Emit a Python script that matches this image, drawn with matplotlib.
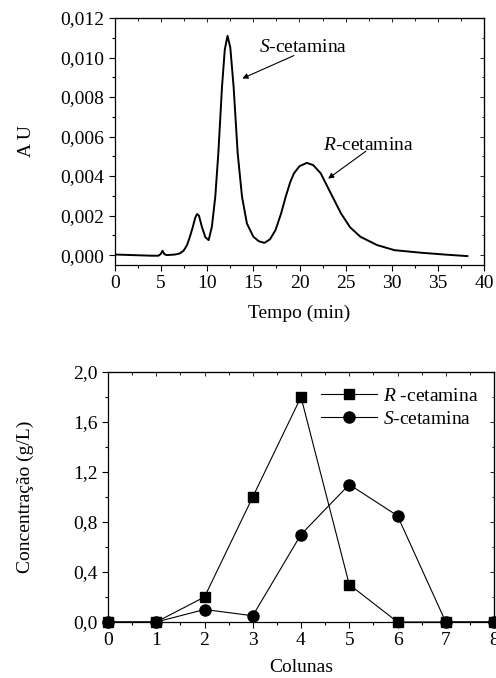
import matplotlib
matplotlib.use("Agg")
import matplotlib.pyplot as plt
from matplotlib.ticker import MultipleLocator

plt.rcParams["font.family"] = ["Liberation Serif", "DejaVu Serif"]
plt.rcParams["mathtext.fontset"] = "custom"
plt.rcParams["mathtext.rm"] = "Liberation Serif"
plt.rcParams["mathtext.it"] = "Liberation Serif:italic"
FS = 14

# cromatograma
tempo = [0, 2, 4, 4.7, 4.95, 5.15, 5.35, 5.6, 6.5, 7.0, 7.43, 7.8, 8.1, 8.44,
         8.7, 8.9, 9.1, 9.42, 9.8, 10.15, 10.5, 10.87, 11.2, 11.6, 11.9, 12.2,
         12.5, 12.86, 13.3, 13.77, 14.3, 15.0, 15.6, 16.2, 16.8, 17.4, 18.0,
         18.5, 19.0, 19.4, 20.0, 20.8, 21.5, 22.3, 23.4, 24.5, 25.5, 26.6,
         28.4, 30.3, 33.2, 35.7, 38.2]
au = [0.00003, 0.0, -0.00003, -0.00003, 0.00005, 0.00022, 0.00005, 0.0,
      0.00003, 0.00008, 0.00022, 0.0005, 0.0009, 0.00143, 0.0019, 0.00208,
      0.002, 0.00143, 0.0009, 0.00076, 0.00143, 0.00295, 0.00515, 0.00852,
      0.0104, 0.0111, 0.0105, 0.0085, 0.00515, 0.00295, 0.0016, 0.00093,
      0.0007, 0.00062, 0.0008, 0.00127, 0.0021, 0.00295, 0.0037, 0.00414,
      0.0045, 0.00467, 0.00455, 0.00414, 0.00312, 0.00211, 0.0014, 0.00093,
      0.00051, 0.00025, 0.00012, 0.00003, -0.00005]

top_xticks = [0, 5, 10, 15, 20, 25, 30, 35, 40]
top_yticks = [0.000, 0.002, 0.004, 0.006, 0.008, 0.010, 0.012]
top_yticklabels = ["0,000", "0,002", "0,004", "0,006", "0,008", "0,010", "0,012"]

# concentracao por coluna
colunas = [0, 1, 2, 3, 4, 5, 6, 7, 8]
conc_r = [0, 0, 0.2, 1.0, 1.8, 0.3, 0, 0, 0]
conc_s = [0, 0, 0.1, 0.05, 0.7, 1.1, 0.85, 0, 0]
bot_yticks = [0.0, 0.4, 0.8, 1.2, 1.6, 2.0]
bot_yticklabels = ["0,0", "0,4", "0,8", "1,2", "1,6", "2,0"]


def style_axes(ax, xminor, yminor):
    ax.xaxis.set_minor_locator(MultipleLocator(xminor))
    ax.yaxis.set_minor_locator(MultipleLocator(yminor))
    ax.tick_params(which="both", direction="out", labelsize=FS)
    ax.tick_params(which="major", length=4, width=0.8)
    ax.tick_params(which="minor", length=2.2, width=0.8)
    # eixos espelhados (topo/direita) com ticks para dentro
    for side in ("top", "right"):
        if side == "top":
            sec = ax.secondary_xaxis("top")
            sec.set_xticks(ax.get_xticks())
            sec.xaxis.set_minor_locator(MultipleLocator(xminor))
        else:
            sec = ax.secondary_yaxis("right")
            sec.set_yticks(ax.get_yticks())
            sec.yaxis.set_minor_locator(MultipleLocator(yminor))
        sec.tick_params(which="both", direction="in", labelleft=False,
                        labelright=False, labeltop=False, labelbottom=False)
        sec.tick_params(which="major", length=3, width=0.6)
        sec.tick_params(which="minor", length=1.8, width=0.6)
    for sp in ax.spines.values():
        sp.set_linewidth(0.9)


fig = plt.figure(figsize=(4.96, 6.78), dpi=100)

ax1 = fig.add_axes([115 / 496, 1 - 265 / 678, 369 / 496, 247 / 678])
ax1.plot(tempo, au, color="black", lw=1.4)
ax1.set_xlim(0, 40)
ax1.set_ylim(-0.0005, 0.012)
ax1.set_xticks(top_xticks)
ax1.set_yticks(top_yticks)
ax1.set_yticklabels(top_yticklabels)
style_axes(ax1, 2.5, 0.001)
ax1.set_xlabel("Tempo (min)", fontsize=FS, labelpad=9)
ax1.set_ylabel("A U", fontsize=FS, labelpad=18)

arrow = dict(arrowstyle="-|>", color="black", lw=0.8, mutation_scale=8,
             shrinkA=0, shrinkB=0)
ax1.text(15.6, 0.01053, "$\\mathit{S}$-cetamina", fontsize=FS, va="center")
ax1.annotate("", xy=(13.8, 0.00894), xytext=(19.4, 0.0101), arrowprops=arrow)
ax1.text(22.5, 0.00556, "$\\mathit{R}$-cetamina", fontsize=FS, va="center")
ax1.annotate("", xy=(23.1, 0.00387), xytext=(27.2, 0.00526), arrowprops=arrow)

ax2 = fig.add_axes([108 / 496, 1 - 622 / 678, 386 / 496, 250 / 678])
ax2.plot(colunas, conc_r, color="black", lw=0.8, marker="s", ms=7.5,
         clip_on=False, zorder=3, label="$\\mathit{R}$ -cetamina")
ax2.plot(colunas, conc_s, color="black", lw=0.8, marker="o", ms=8,
         clip_on=False, zorder=3, label="$\\mathit{S}$-cetamina")
ax2.set_xlim(0, 8)
ax2.set_ylim(0, 2.0)
ax2.set_xticks(colunas)
ax2.set_yticks(bot_yticks)
ax2.set_yticklabels(bot_yticklabels)
style_axes(ax2, 0.5, 0.2)
ax2.set_xlabel("Colunas", fontsize=FS, labelpad=7)
ax2.set_ylabel("Concentração (g/L)", fontsize=FS, labelpad=28)
ax2.legend(loc="upper right", frameon=False, fontsize=FS, handlelength=2.9,
           handletextpad=0.3, labelspacing=0.25, borderaxespad=0.4)

fig.savefig("out.png", dpi=100)
